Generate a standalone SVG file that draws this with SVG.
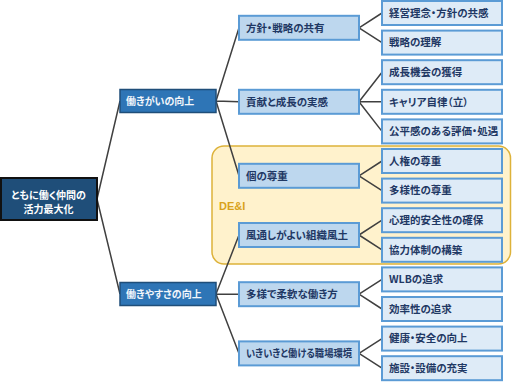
<svg xmlns="http://www.w3.org/2000/svg" width="512" height="384" viewBox="0 0 512 384">
<style>
text{font-family:"Noto Sans CJK JP","Noto Sans",sans-serif;font-weight:bold;font-feature-settings:"palt";}
.root rect{fill:#1F4E79;stroke:#111;stroke-width:2;}
.root text{fill:#fff;font-size:10px;text-anchor:middle;}
.l1 rect{fill:#2E75B6;stroke:#1F4E79;stroke-width:1.5;}
.l1 text{fill:#F2F6FB;font-size:10px;}
.l2 rect{fill:#BDD7EE;stroke:#5B9BD5;stroke-width:2;}
.l2 text{fill:#1F3864;font-size:10.5px;}
.l3 rect{fill:#DEEBF7;stroke:#5B9BD5;stroke-width:2;}
.l3 text{fill:#1F3864;font-size:10.5px;}
#connectors path{fill:none;stroke:#404040;stroke-width:1.5;}
.dei{fill:#FFF2CC;stroke:#DDB23A;stroke-width:1.5;}
.deilabel{fill:#D9A21B;font-family:"Liberation Sans",sans-serif;font-size:11px;}
</style>
<rect width="512" height="384" fill="#fff"/>
<g id="dei-group">
<rect class="dei" x="212" y="146" width="298.5" height="118" rx="12"/>
<text class="deilabel" x="219" y="210">DE&amp;I</text>
</g>
<g id="connectors">
<path d="M97 199L120 101M97 199L120 294"/>
<path d="M216 101L239 27.8M216 101L239 101.8M216 101L239 175.8"/>
<path d="M216 294L239 235M216 294L239 294.2M216 294L239 353.4"/>
<path d="M359 27.8L382 13M359 27.8L382 42.6"/>
<path d="M359 101.8L382 72.2M359 101.8L382 101.8M359 101.8L382 131.4"/>
<path d="M359 175.8L382 161M359 175.8L382 190.6"/>
<path d="M359 235L382 220.2M359 235L382 249.8"/>
<path d="M359 294.2L382 279.4M359 294.2L382 309"/>
<path d="M359 353.4L382 338.6M359 353.4L382 368.2"/>
</g>
<g id="root" class="root">
<rect x="1" y="178" width="96" height="42"/>
<text x="48.5" y="198.5">ともに働く仲間の</text>
<text x="48.5" y="212.5">活力最大化</text>
</g>
<g id="n-yarigai" class="l1"><rect x="120" y="89.5" width="96" height="23"/><text x="126" y="105">働きがいの向上</text></g>
<g id="n-yasusa" class="l1"><rect x="120" y="282.5" width="96" height="23"/><text x="126" y="298">働きやすさの向上</text></g>
<g id="n-hoshin" class="l2"><rect x="239" y="15.8" width="120" height="24"/><text x="246" y="31.6">方針・戦略の共有</text></g>
<g id="n-koken" class="l2"><rect x="239" y="89.8" width="120" height="24"/><text x="246" y="105.6">貢献と成長の実感</text></g>
<g id="n-ko" class="l2"><rect x="239" y="163.8" width="120" height="24"/><text x="246" y="179.6">個の尊重</text></g>
<g id="n-kazetoshi" class="l2"><rect x="239" y="223" width="120" height="24"/><text x="246" y="238.8">風通しがよい組織風土</text></g>
<g id="n-tayo" class="l2"><rect x="239" y="282.2" width="120" height="24"/><text x="246" y="298">多様で柔軟な働き方</text></g>
<g id="n-ikiiki" class="l2"><rect x="239" y="341.4" width="120" height="24"/><text x="246" y="357.2" textLength="106" lengthAdjust="spacingAndGlyphs">いきいきと働ける職場環境</text></g>
<g id="n-keiei" class="l3"><rect x="382" y="1" width="120" height="24"/><text x="389" y="16.8">経営理念・方針の共感</text></g>
<g id="n-senryaku" class="l3"><rect x="382" y="30.6" width="120" height="24"/><text x="389" y="46.4">戦略の理解</text></g>
<g id="n-seicho" class="l3"><rect x="382" y="60.2" width="120" height="24"/><text x="389" y="76">成長機会の獲得</text></g>
<g id="n-career" class="l3"><rect x="382" y="89.8" width="120" height="24"/><text x="389" y="105.6">キャリア自律（立）</text></g>
<g id="n-kohei" class="l3"><rect x="382" y="119.4" width="120" height="24"/><text x="389" y="135.2">公平感のある評価・処遇</text></g>
<g id="n-jinken" class="l3"><rect x="382" y="149" width="120" height="24"/><text x="389" y="164.8">人権の尊重</text></g>
<g id="n-tayosei" class="l3"><rect x="382" y="178.6" width="120" height="24"/><text x="389" y="194.4">多様性の尊重</text></g>
<g id="n-shinri" class="l3"><rect x="382" y="208.2" width="120" height="24"/><text x="389" y="224">心理的安全性の確保</text></g>
<g id="n-kyoryoku" class="l3"><rect x="382" y="237.8" width="120" height="24"/><text x="389" y="253.6">協力体制の構築</text></g>
<g id="n-wlb" class="l3"><rect x="382" y="267.4" width="120" height="24"/><text x="389" y="283.2">WLBの追求</text></g>
<g id="n-koritsu" class="l3"><rect x="382" y="297" width="120" height="24"/><text x="389" y="312.8">効率性の追求</text></g>
<g id="n-kenko" class="l3"><rect x="382" y="326.6" width="120" height="24"/><text x="389" y="342.4">健康・安全の向上</text></g>
<g id="n-shisetsu" class="l3"><rect x="382" y="356.2" width="120" height="24"/><text x="389" y="372">施設・設備の充実</text></g>
</svg>
